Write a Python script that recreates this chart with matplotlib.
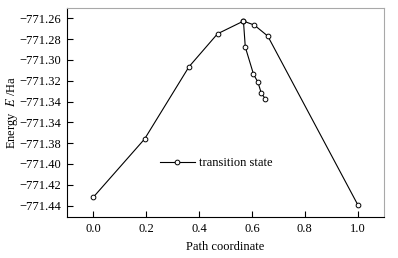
import matplotlib
matplotlib.use("Agg")
from matplotlib import pyplot as plt

# main path (reactant -> TS -> product)
path_x = [0.0, 0.194, 0.362, 0.470, 0.568, 0.609, 0.660, 1.0]
path_e = [-771.432, -771.376, -771.3065, -771.2748, -771.2626, -771.2664, -771.277, -771.439]

# branch dropping from the top point
branch_x = [0.568, 0.575, 0.606, 0.623, 0.635, 0.651]
branch_e = [-771.2626, -771.2876, -771.3136, -771.3215, -771.3315, -771.3376]

xticks = [0.0, 0.2, 0.4, 0.6, 0.8, 1.0]
xlabels = ["0.0", "0.2", "0.4", "0.6", "0.8", "1.0"]
yticks = [-771.26, -771.28, -771.30, -771.32, -771.34, -771.36, -771.38, -771.40, -771.42, -771.44]
ylabels = ["\u2212771.26", "\u2212771.28", "\u2212771.30", "\u2212771.32", "\u2212771.34",
           "\u2212771.34", "\u2212771.38", "\u2212771.40", "\u2212771.42", "\u2212771.44"]

plt.rcParams["font.family"] = "Liberation Serif"
plt.rcParams["mathtext.fontset"] = "stix"
plt.rcParams["font.size"] = 9

fig = plt.figure(figsize=(3.98, 2.58), dpi=100)
ax = fig.add_axes([0.168, 0.159, 0.797, 0.810])

mk = dict(marker="o", markersize=3.4, markerfacecolor="white", markeredgecolor="black",
          markeredgewidth=0.7, color="black", linewidth=0.8)
ax.plot(path_x, path_e, label="transition state", **mk)
ax.plot(branch_x, branch_e, **mk)

ax.set_xlim(-0.1, 1.1)
ax.set_ylim(-771.451, -771.25)
ax.set_xticks(xticks, xlabels)
ax.set_yticks(yticks, ylabels)
ax.tick_params(direction="in", length=4, width=0.8, top=False, right=False, pad=4)

for s in ["top", "right"]:
    ax.spines[s].set_color("#a8a8a8")
for s in ["left", "bottom"]:
    ax.spines[s].set_color("black")
for s in ax.spines.values():
    s.set_linewidth(0.8)

ax.set_xlabel("Path coordinate", labelpad=5)
ax.set_ylabel(r"Energy  $\it{E}$ /Ha", labelpad=0)

ax.legend(loc="center left", bbox_to_anchor=(0.293, 0.258), frameon=False,
          borderpad=0, borderaxespad=0, handlelength=2.8, handletextpad=0.3)

fig.savefig("out.png", dpi=100)
